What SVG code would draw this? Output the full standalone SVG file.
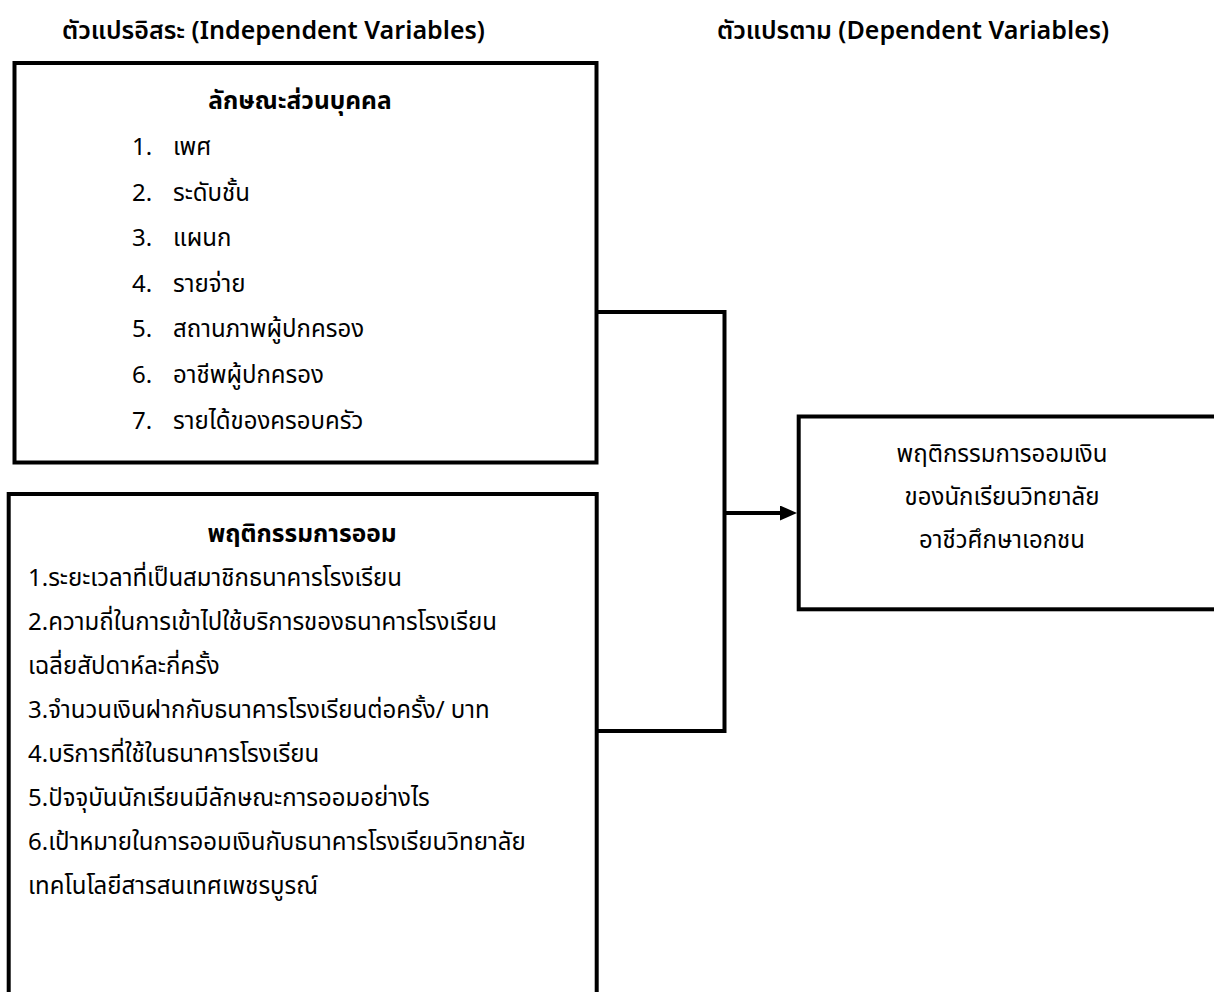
<svg xmlns="http://www.w3.org/2000/svg" width="1214" height="992" viewBox="0 0 1214 992">
<style>
text{font-family:"Noto Sans Thai","Noto Sans","DejaVu Sans",sans-serif;fill:#000;}
.h{font-size:25px;font-weight:600;}
.t{font-size:24px;}
.b{font-size:24.5px;font-weight:700;}
.box{fill:#fff;stroke:#000;stroke-width:4;}
.ln{fill:none;stroke:#000;stroke-width:4;}
</style>
<defs>
<marker id="ah" markerWidth="17" markerHeight="15" refX="5" refY="7.5" orient="auto" markerUnits="userSpaceOnUse">
<path d="M0,0 L17,7.5 L0,15 Z" fill="#000"/>
</marker>
</defs>
<rect width="1214" height="992" fill="#fff"/>
<g id="headers">
<text class="h" x="62" y="39">ตัวแปรอิสระ (Independent Variables)</text>
<text class="h" x="717" y="39">ตัวแปรตาม (Dependent Variables)</text>
</g>
<g id="connectors">
<polyline class="ln" points="597,312 724.5,312 724.5,731 597,731"/>
<line class="ln" x1="724.5" y1="513" x2="785" y2="513" marker-end="url(#ah)"/>
</g>
<g id="personal">
<rect class="box" x="14.5" y="63" width="582" height="399.5"/>
<text class="b" x="300" y="109" text-anchor="middle">ลักษณะส่วนบุคคล</text>
<text class="t" x="132" y="155">1.</text><text class="t" x="173" y="155">เพศ</text>
<text class="t" x="132" y="201">2.</text><text class="t" x="173" y="201">ระดับชั้น</text>
<text class="t" x="132" y="246">3.</text><text class="t" x="173" y="246">แผนก</text>
<text class="t" x="132" y="292">4.</text><text class="t" x="173" y="292">รายจ่าย</text>
<text class="t" x="132" y="337">5.</text><text class="t" x="173" y="337">สถานภาพผู้ปกครอง</text>
<text class="t" x="132" y="383">6.</text><text class="t" x="173" y="383">อาชีพผู้ปกครอง</text>
<text class="t" x="132" y="429">7.</text><text class="t" x="173" y="429">รายได้ของครอบครัว</text>
</g>
<g id="saving">
<rect class="box" x="8.7" y="494" width="588" height="520"/>
<text class="b" x="302" y="542" text-anchor="middle">พฤติกรรมการออม</text>
<text class="t" x="28" y="586">1.ระยะเวลาที่เป็นสมาชิกธนาคารโรงเรียน</text>
<text class="t" x="28" y="630">2.ความถี่ในการเข้าไปใช้บริการของธนาคารโรงเรียน</text>
<text class="t" x="28" y="674">เฉลี่ยสัปดาห์ละกี่ครั้ง</text>
<text class="t" x="28" y="718">3.จำนวนเงินฝากกับธนาคารโรงเรียนต่อครั้ง/ บาท</text>
<text class="t" x="28" y="762">4.บริการที่ใช้ในธนาคารโรงเรียน</text>
<text class="t" x="28" y="806">5.ปัจจุบันนักเรียนมีลักษณะการออมอย่างไร</text>
<text class="t" x="28" y="850">6.เป้าหมายในการออมเงินกับธนาคารโรงเรียนวิทยาลัย</text>
<text class="t" x="28" y="894">เทคโนโลยีสารสนเทศเพชรบูรณ์</text>
</g>
<g id="outcome">
<rect class="box" x="798.7" y="416.5" width="440" height="192.8"/>
<text class="t" x="1002" y="462" text-anchor="middle">พฤติกรรมการออมเงิน</text>
<text class="t" x="1002" y="505" text-anchor="middle">ของนักเรียนวิทยาลัย</text>
<text class="t" x="1002" y="548" text-anchor="middle">อาชีวศึกษาเอกชน</text>
</g>
</svg>
